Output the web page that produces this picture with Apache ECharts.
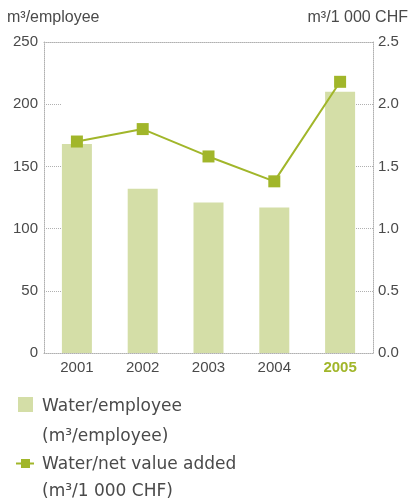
<!DOCTYPE html>
<html>
<head>
<meta charset="utf-8">
<title>Water consumption</title>
<script src="https://cdn.jsdelivr.net/npm/echarts@6/dist/echarts.min.js"></script>
<style>
  html, body { margin: 0; padding: 0; background: #fff; }
  #chart { width: 412px; height: 502px; }
</style>
</head>
<body>
<div id="chart"></div>
<script>
// Reporting years
const years = ['2001', '2002', '2003', '2004', '2005'];
// Water use per employee (m³/employee), left axis
const waterPerEmployee = [168, 132, 121, 117, 210];
// Water use per net value added (m³/1 000 CHF), right axis
const waterPerValueAdded = [1.70, 1.80, 1.58, 1.38, 2.18];
// Legend texts
const seriesNames = ['Water/employee', 'Water/net value added'];
const seriesUnits = ['(m³/employee)', '(m³/1 000 CHF)'];
const axisUnits = ['m³/employee', 'm³/1 000 CHF'];

const barColor = '#d4dea7';
const lineColor = '#a1b62a';
const textColor = '#4a4a4a';
const dotColor = '#b0b0b0';
const font = '"Liberation Sans", Arial, Helvetica, sans-serif';

const dotted = { color: dotColor, width: 1, type: [1, 1] };

const chart = echarts.init(document.getElementById('chart'), null, { renderer: 'canvas' });

const legendFont = '17px "DejaVu Sans", sans-serif';

chart.setOption({
  animation: false,
  backgroundColor: '#fff',
  textStyle: { fontFamily: font },
  grid: { left: 44, right: 39, top: 42, bottom: 149, containLabel: false },
  xAxis: [
    {
      type: 'category',
      data: years.map((y, i) => i === years.length - 1
        ? { value: y, textStyle: { color: lineColor, fontWeight: 'bold' } }
        : y),
      axisLine: { show: true, onZero: false, lineStyle: dotted },
      axisTick: { show: false },
      axisLabel: { color: textColor, fontSize: 15, margin: 7, fontFamily: font }
    },
    {
      type: 'category',
      position: 'top',
      data: years,
      axisLine: { show: true, onZero: false, lineStyle: dotted },
      axisTick: { show: false },
      axisLabel: { show: false }
    }
  ],
  yAxis: [
    {
      type: 'value',
      min: 0, max: 250, interval: 50,
      name: axisUnits[0],
      nameLocation: 'end',
      nameGap: 16,
      nameTextStyle: { color: textColor, fontSize: 16, align: 'left', padding: [0, 0, 0, -37], fontFamily: font },
      axisLine: { show: true, onZero: false, lineStyle: dotted },
      axisTick: { show: true, inside: true, length: 18, lineStyle: dotted },
      splitLine: { show: false },
      axisLabel: { color: textColor, fontSize: 15, margin: 6, fontFamily: font }
    },
    {
      type: 'value',
      min: 0, max: 2.5, interval: 0.5,
      name: axisUnits[1],
      nameLocation: 'end',
      nameGap: 16,
      nameTextStyle: { color: textColor, fontSize: 16, align: 'right', padding: [0, -35, 0, 0], fontFamily: font },
      axisLine: { show: true, onZero: false, lineStyle: dotted },
      axisTick: { show: true, inside: true, length: 17, lineStyle: dotted },
      splitLine: { show: false },
      axisLabel: { color: textColor, fontSize: 15, margin: 5, fontFamily: font, formatter: v => v.toFixed(1) }
    }
  ],
  series: [
    {
      name: seriesNames[0],
      type: 'bar',
      xAxisIndex: 0,
      yAxisIndex: 0,
      data: waterPerEmployee,
      barWidth: 30,
      itemStyle: { color: barColor },
      z: 2
    },
    {
      name: seriesNames[1],
      type: 'line',
      xAxisIndex: 0,
      yAxisIndex: 1,
      data: waterPerValueAdded,
      symbol: 'rect',
      symbolSize: 12,
      lineStyle: { color: lineColor, width: 2 },
      itemStyle: { color: lineColor },
      z: 3
    }
  ],
  graphic: [
    // Legend: bar swatch
    { type: 'rect', shape: { x: 18, y: 397, width: 15, height: 15 }, style: { fill: barColor } },
    { type: 'text', style: { x: 42, y: 407, text: seriesNames[0], font: legendFont, fill: textColor, textVerticalAlign: 'middle' } },
    { type: 'text', style: { x: 42, y: 437, text: seriesUnits[0], font: legendFont, fill: textColor, textVerticalAlign: 'middle' } },
    // Legend: line with square marker
    { type: 'line', shape: { x1: 16, y1: 463.5, x2: 34, y2: 463.5 }, style: { stroke: lineColor, lineWidth: 2 } },
    { type: 'rect', shape: { x: 21, y: 459, width: 9, height: 9 }, style: { fill: lineColor } },
    { type: 'text', style: { x: 42, y: 465, text: seriesNames[1], font: legendFont, fill: textColor, textVerticalAlign: 'middle' } },
    { type: 'text', style: { x: 42, y: 492, text: seriesUnits[1], font: legendFont, fill: textColor, textVerticalAlign: 'middle' } }
  ]
});
</script>
</body>
</html>
